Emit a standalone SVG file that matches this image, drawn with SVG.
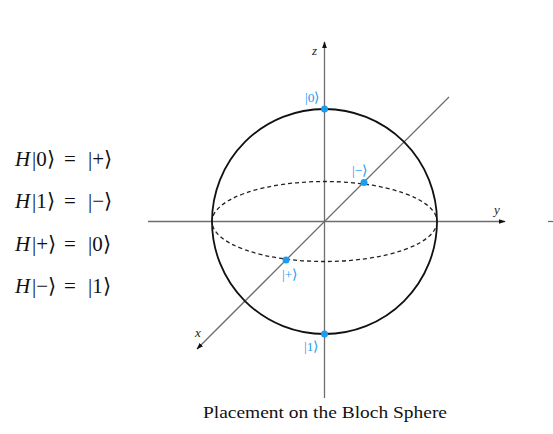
<svg xmlns="http://www.w3.org/2000/svg" width="553" height="434" viewBox="0 0 553 434">
<style>
.axis{stroke:#6e6e6e;stroke-width:1.3;fill:none}
.sph{stroke:#111;stroke-width:1.8;fill:none}
.eq{stroke:#222;stroke-width:1.3;stroke-dasharray:4 3;fill:none}
.pt{fill:#1a9cf0}
.bl{font-family:"Liberation Serif",serif;font-size:13.5px;fill:#1a9cf0}
.ax{font-family:"Liberation Serif",serif;font-size:13px;font-style:italic;fill:#222}
.m{font-family:"Liberation Serif",serif;font-size:21px;fill:#111}
.cap{font-family:"Liberation Serif",serif;font-size:17.5px;fill:#111}
</style>
<defs>
<marker id="arr" viewBox="0 0 10 10" refX="9" refY="5" markerWidth="7" markerHeight="7" orient="auto" markerUnits="userSpaceOnUse">
<path d="M0,1.5 L10,5 L0,8.5 Z" fill="#111"/>
</marker>
</defs>
<g id="connectors">
<line class="axis" x1="324.5" y1="398" x2="324.5" y2="42" marker-end="url(#arr)"/>
<line class="axis" x1="148" y1="221.5" x2="505" y2="221.5" marker-end="url(#arr)"/>
<line class="axis" x1="449" y1="97" x2="197" y2="349" marker-end="url(#arr)"/>
<line class="axis" x1="548" y1="221.5" x2="553" y2="221.5"/>
</g>
<g id="sphere">
<circle class="sph" cx="324.5" cy="221.5" r="112.5"/>
<ellipse class="eq" cx="324.5" cy="221.5" rx="112.5" ry="40"/>
</g>
<g id="axis-labels">
<text class="ax" x="312" y="55">z</text>
<text class="ax" x="494" y="214">y</text>
<text class="ax" x="195" y="337">x</text>
</g>
<g id="state0"><circle class="pt" cx="324.5" cy="109" r="3.5"/><text class="bl" x="305" y="102">|0⟩</text></g>
<g id="state1"><circle class="pt" cx="324.5" cy="334" r="3.5"/><text class="bl" x="304" y="351">|1⟩</text></g>
<g id="statePlus"><circle class="pt" cx="286" cy="260" r="3.5"/><text class="bl" x="282" y="279">|+⟩</text></g>
<g id="stateMinus"><circle class="pt" cx="364" cy="182.5" r="3.5"/><text class="bl" x="352" y="175">|−⟩</text></g>
<g id="equations">
<text class="m" y="166"><tspan x="15" font-style="italic">H</tspan><tspan x="32">|0⟩</tspan><tspan x="64">=</tspan><tspan x="88">|+⟩</tspan></text>
<text class="m" y="208"><tspan x="15" font-style="italic">H</tspan><tspan x="32">|1⟩</tspan><tspan x="64">=</tspan><tspan x="88">|−⟩</tspan></text>
<text class="m" y="251"><tspan x="15" font-style="italic">H</tspan><tspan x="32">|+⟩</tspan><tspan x="64">=</tspan><tspan x="88">|0⟩</tspan></text>
<text class="m" y="293"><tspan x="15" font-style="italic">H</tspan><tspan x="32">|−⟩</tspan><tspan x="64">=</tspan><tspan x="88">|1⟩</tspan></text>
</g>
<g id="caption">
<text class="cap" x="203" y="418" textLength="244" lengthAdjust="spacingAndGlyphs">Placement on the Bloch Sphere</text>
</g>
</svg>
